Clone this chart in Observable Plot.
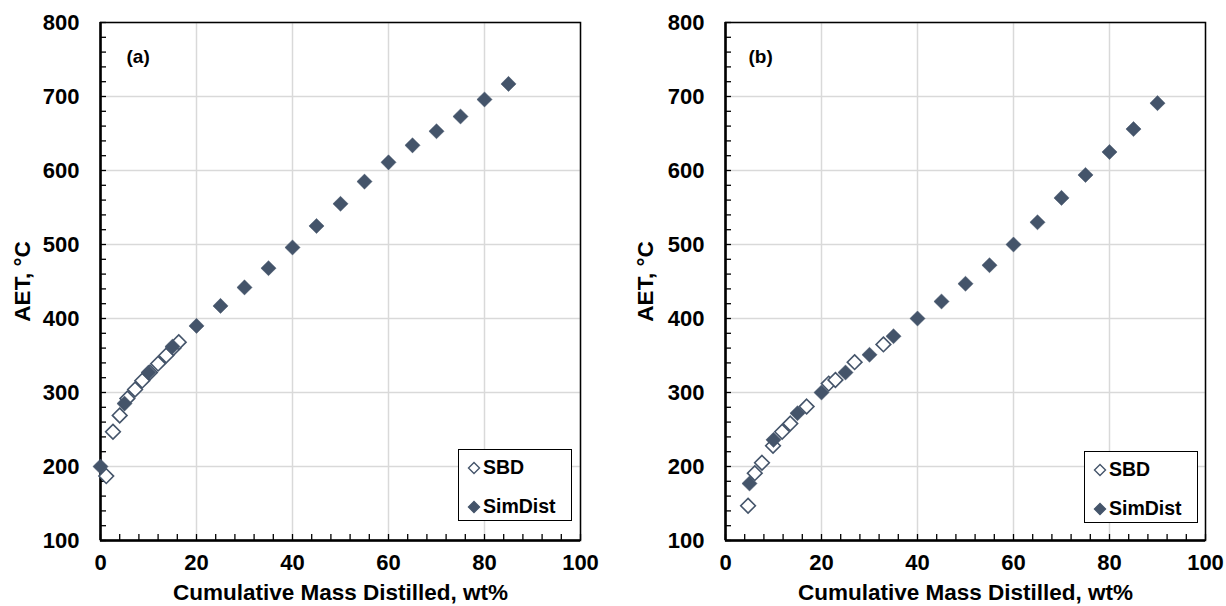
<!DOCTYPE html>
<html><head><meta charset="utf-8">
<script src="https://cdn.jsdelivr.net/npm/d3@7"></script>
<script src="https://cdn.jsdelivr.net/npm/@observablehq/plot@0.6"></script>
<style>
html,body{margin:0;padding:0;background:#fff;}
#wrap{position:relative;width:1226px;height:606px;display:flex;font-family:"Liberation Sans",Arial,sans-serif;font-weight:bold;}
.legend{position:absolute;border:1.5px solid #000;background:#fff;box-sizing:border-box;font-size:19.5px;color:#000;}
.legend .row{position:absolute;left:8px;display:flex;align-items:center;gap:2px;line-height:1;}
</style>
</head><body>
<div id="wrap"></div>
<script>
// ---- data ----
const xTicks = [0, 20, 40, 60, 80, 100];
const yTicks = [100, 200, 300, 400, 500, 600, 700, 800];
const seriesNames = ["SBD", "SimDist"];
const xTitle = "Cumulative Mass Distilled, wt%";
const yTitle = "AET, °C";

const aSbdX = [1.2, 2.6, 4.0, 5.6, 7.2, 8.7, 10.3, 12.0, 13.7, 15.2, 16.3];
const aSbdY = [187, 247, 269, 292, 304, 316, 327, 339, 350, 360, 368];
const aSimX = [0, 5, 10, 15, 20, 25, 30, 35, 40, 45, 50, 55, 60, 65, 70, 75, 80, 85];
const aSimY = [200, 285, 327, 362, 390, 417, 442, 468, 496, 525, 555, 585, 611, 634, 653, 673, 696, 717];

const bSbdX = [4.7, 6.1, 7.6, 9.9, 11.8, 13.5, 16.9, 21.5, 22.9, 26.9, 32.9];
const bSbdY = [147, 191, 205, 228, 247, 258, 281, 312, 317, 341, 365];
const bSimX = [5, 10, 15, 20, 25, 30, 35, 40, 45, 50, 55, 60, 65, 70, 75, 80, 85, 90];
const bSimY = [177, 236, 272, 300, 327, 351, 376, 400, 423, 447, 472, 500, 530, 563, 594, 625, 656, 691];

const color = "#44546A";
const font = '"Liberation Sans", Arial, sans-serif';

function toRows(xs, ys) { return xs.map((x, i) => ({x, y: ys[i]})); }

function panel(label, sbd, sim, ml, mr, tagDx, yTitleDx) {
  return Plot.plot({
    width: 613, height: 606,
    marginLeft: ml, marginRight: mr, marginTop: 22, marginBottom: 66,
    style: {fontFamily: font, fontWeight: "bold", fontSize: "22px", color: "#000", background: "#fff"},
    x: {domain: [0, 100]},
    y: {domain: [100, 800]},
    marks: [
      Plot.gridX(xTicks, {stroke: "#d9d9d9", strokeOpacity: 1, strokeWidth: 1.5}),
      Plot.gridY(yTicks, {stroke: "#d9d9d9", strokeOpacity: 1, strokeWidth: 1.5}),
      Plot.axisX(d3.range(0, 101, 4), {tickSize: -6, text: null, label: null, strokeWidth: 1.3}),
      Plot.axisY(d3.range(100, 801, 20), {tickSize: -6, text: null, label: null, strokeWidth: 1.3}),
      Plot.axisX(xTicks, {tickSize: 0, tickPadding: 14, fontSize: 22, label: null}),
      Plot.axisY(yTicks, {tickSize: 0, tickPadding: 21, fontSize: 22, label: null}),
      Plot.text([xTitle], {frameAnchor: "bottom", dy: 52, textAnchor: "middle", lineAnchor: "middle", fontSize: 22.5, fontWeight: "bold", fill: "#000"}),
      Plot.text([yTitle], {frameAnchor: "left", dx: yTitleDx, rotate: -90, textAnchor: "middle", lineAnchor: "middle", fontSize: 22.5, fontWeight: "bold", fill: "#000"}),
      Plot.frame({stroke: "#000", strokeWidth: 1.5}),
      Plot.ruleX([0], {stroke: "#000", strokeWidth: 2.5}),
      Plot.ruleY([100], {stroke: "#000", strokeWidth: 2.5}),
      Plot.dot(sbd, {x: "x", y: "y", symbol: "diamond2", r: 6.6, fill: "#fff", stroke: color, strokeWidth: 1.6}),
      Plot.dot(sim, {x: "x", y: "y", symbol: "diamond2", r: 6.8, fill: color, stroke: color, strokeWidth: 0.5}),
      Plot.text([label], {frameAnchor: "top-left", dx: tagDx, dy: 34, textAnchor: "start", lineAnchor: "middle", fontSize: 19, fontWeight: "bold", fill: "#000"})
    ]
  });
}

const wrap = document.getElementById("wrap");
wrap.appendChild(panel("(a)", toRows(aSbdX, aSbdY), toRows(aSimX, aSimY), 100, 33, 26, -78));
wrap.appendChild(panel("(b)", toRows(bSbdX, bSbdY), toRows(bSimX, bSimY), 112, 21, 23, -80));

function legend(left, top) {
  const d = document.createElement("div");
  d.className = "legend";
  d.style.left = left + "px"; d.style.top = top + "px";
  d.style.width = "114px"; d.style.height = "72px";
  const sym = (filled) => `<svg width="14" height="14" viewBox="-7 -7 14 14"><path d="M0,-5.5L5.5,0L0,5.5L-5.5,0Z" fill="${filled ? color : "#fff"}" stroke="${color}" stroke-width="1.4"/></svg>`;
  d.innerHTML = `<div class="row" style="top:8px">${sym(false)}<span>${seriesNames[0]}</span></div>` +
                `<div class="row" style="top:47px">${sym(true)}<span>${seriesNames[1]}</span></div>`;
  wrap.appendChild(d);
}
legend(458, 449);
legend(1084, 451);
</script>
</body></html>
